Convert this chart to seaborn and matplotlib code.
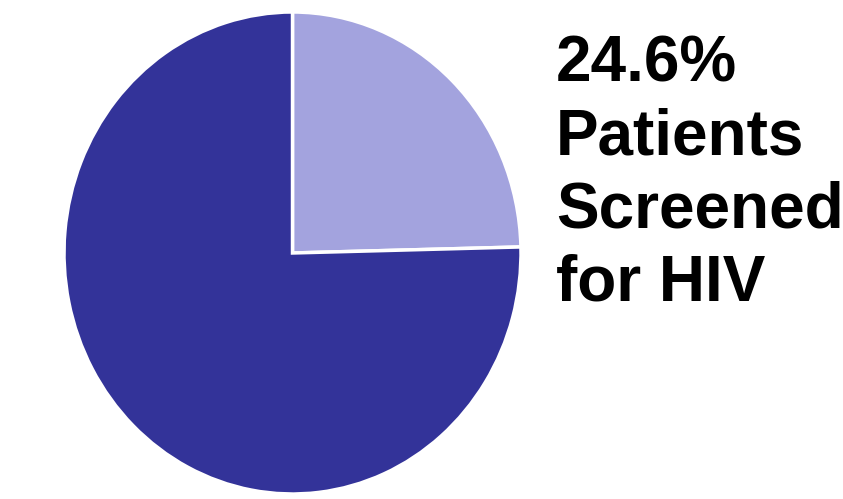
import matplotlib
matplotlib.use("Agg")
import matplotlib.pyplot as plt
import seaborn as sns

sns.set_theme(style="white")
plt.rcParams["font.family"] = ["Liberation Sans", "DejaVu Sans"]

labels = ["Screened for HIV", "Not screened"]
shares = [24.6, 75.4]
colors = ["#a3a3de", "#333399"]
caption = "24.6%\nPatients\nScreened\nfor HIV"

fig = plt.figure(figsize=(8.43, 4.99), dpi=100)
# pie is drawn slightly taller than wide, like the original
ax = fig.add_axes([64 / 843, 5 / 499, 457 / 843, 482 / 499])
ax.pie(
    shares,
    colors=colors,
    startangle=90,
    counterclock=False,
    radius=1,
    wedgeprops={"edgecolor": "white", "linewidth": 2.5},
)
ax.set_aspect("auto")
ax.set_xlim(-1, 1)
ax.set_ylim(-1, 1)
ax.axis("off")

fig.text(
    556 / 843,
    1 - 34 / 499,
    caption,
    ha="left",
    va="top",
    fontsize=46,
    fontweight="bold",
    color="black",
    linespacing=1.28,
)

fig.savefig("out.png", dpi=100)
